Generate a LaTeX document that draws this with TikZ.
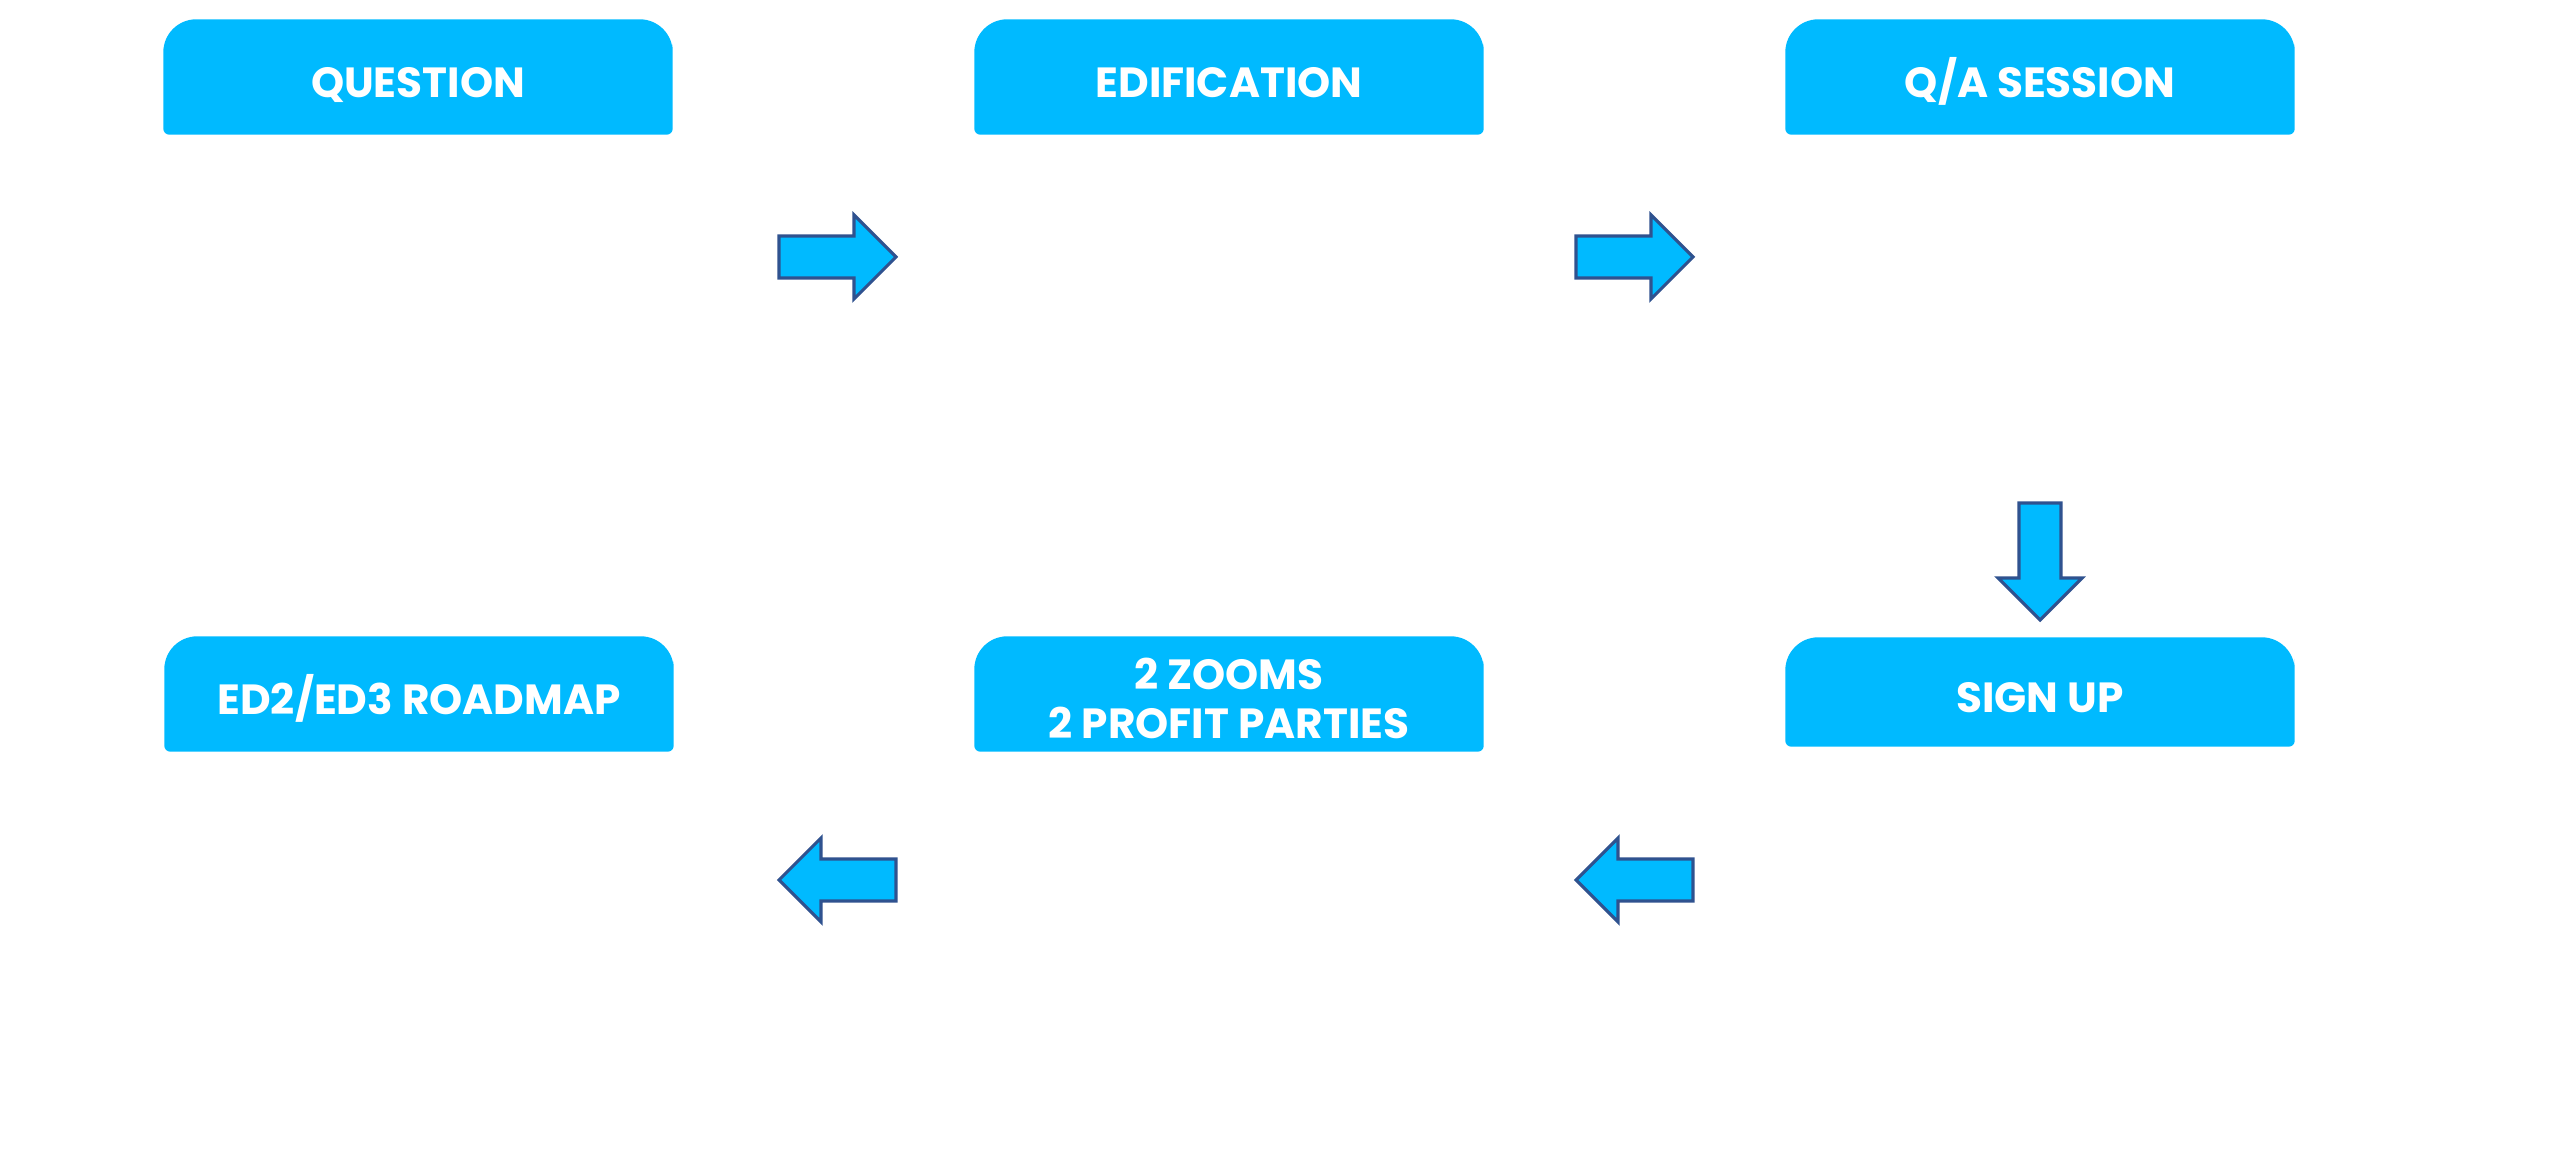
\documentclass[tikz,border=0pt]{standalone}
\usepackage{fontspec}
\setmainfont{Poppins}
\usetikzlibrary{backgrounds}
\definecolor{stageblue}{RGB}{0,186,255}
\definecolor{arrowedge}{RGB}{47,82,143}
\tikzset{
	stage/.style={minimum width=5.08cm, minimum height=1.14cm, inner sep=0pt, text=white, align=center, text height=0.41cm, text depth=0cm, font=\bfseries\fontsize{12}{14}\selectfont},
	flow/.style={fill=stageblue, draw=arrowedge, line width=0.9pt, line join=miter}
}
\def\stagebox#1{\fill[stageblue] (#1.west) [rounded corners=3.3mm] -- (#1.north west) -- (#1.north east) -- (#1.east) [rounded corners=0.6mm] -- (#1.south east) -- (#1.south west) -- cycle;}
\def\flowarrow(#1)(#2){\draw[flow, shift={(#1)}, rotate=#2] (0,-0.21) -- (0.75,-0.21) -- (0.75,-0.42) -- (1.17,0) -- (0.75,0.42) -- (0.75,0.21) -- (0,0.21) -- cycle;}

\begin{document}
\begin{tikzpicture}
			%%%%% START %%%%%
			\useasboundingbox (0,0) rectangle (25.6,-11.53);
			
			% top row
			\node[stage] (question) at (4.18,-0.77) {QUESTION};
			\node[stage] (edification) at (12.29,-0.77) {EDIFICATION};
			\node[stage] (qasession) at (20.40,-0.77) {Q/A SESSION};
			
			% bottom row
			\node[stage] (roadmap) at (4.19,-6.94) {ED2/ED3 ROADMAP};
			\node[stage, text height=0.89cm] (zooms) at (12.29,-6.94) {2 ZOOMS\\2 PROFIT PARTIES};
			\node[stage, minimum height=1.08cm] (signup) at (20.40,-6.92) {SIGN UP};
			
			\begin{scope}[on background layer]
				\stagebox{question}
				\stagebox{edification}
				\stagebox{qasession}
				\stagebox{roadmap}
				\stagebox{zooms}
				\stagebox{signup}
			\end{scope}
			
			% arrows
			\flowarrow(7.79,-2.57)(0)
			\flowarrow(15.76,-2.57)(0)
			\flowarrow(20.40,-5.03)(-90)
			\flowarrow(16.93,-8.80)(180)
			\flowarrow(8.96,-8.80)(180)
			
			%%%%% END %%%%%
		\end{tikzpicture}
\end{document}
